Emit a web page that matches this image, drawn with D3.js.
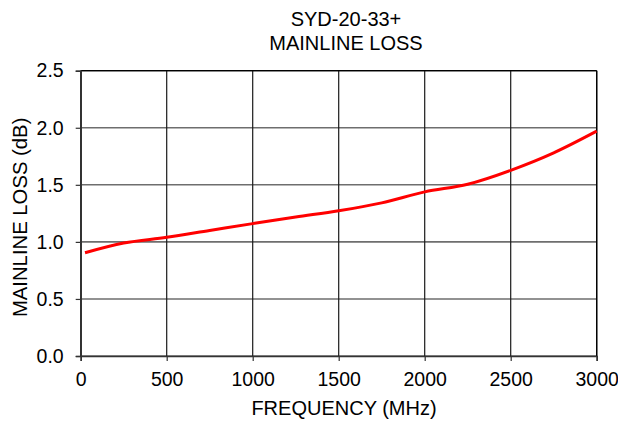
<!doctype html>
<html>
<head>
<meta charset="utf-8">
<script src="https://cdnjs.cloudflare.com/ajax/libs/d3/7.8.5/d3.min.js"></script>
<style>
  body { margin: 0; background: #fff; }
  text { font-family: "Liberation Sans", Arial, sans-serif; fill: #000; }
</style>
</head>
<body>
<div id="chart"></div>
<script>
// Data
var freqs  = [25, 250, 500, 750, 1000, 1250, 1500, 1750, 2000, 2250, 2500, 2750, 3000];
var losses = [0.905, 0.99, 1.04, 1.10, 1.16, 1.218, 1.272, 1.342, 1.438, 1.505, 1.627, 1.78, 1.97];
var xTicks = [0, 500, 1000, 1500, 2000, 2500, 3000];
var yTicks = [0.0, 0.5, 1.0, 1.5, 2.0, 2.5];
var titleLines = ["SYD-20-33+", "MAINLINE LOSS"];

var W = 618, H = 423;
var margin = { left: 80.7, right: 21.3, top: 70.7, bottom: 67 };
var width = W - margin.left - margin.right,
    height = H - margin.top - margin.bottom;

var svg = d3.select("#chart").append("svg")
  .attr("width", W)
  .attr("height", H);

var g = svg.append("g")
  .attr("transform", "translate(" + margin.left + "," + margin.top + ")");

var x = d3.scaleLinear().domain([0, 3000]).range([0, width]);
var y = d3.scaleLinear().domain([0, 2.5]).range([height, 0]);

// horizontal grid (grey)
g.selectAll(".hgrid").data(yTicks).enter().append("line")
  .attr("class", "hgrid")
  .attr("x1", 0).attr("x2", width)
  .attr("y1", function(d) { return y(d); })
  .attr("y2", function(d) { return y(d); })
  .attr("stroke", "#6e6e6e")
  .attr("stroke-width", 1.6);

// vertical grid (black)
g.selectAll(".vgrid").data(xTicks).enter().append("line")
  .attr("class", "vgrid")
  .attr("y1", 0).attr("y2", height)
  .attr("x1", function(d) { return x(d); })
  .attr("x2", function(d) { return x(d); })
  .attr("stroke", "#1a1a1a")
  .attr("stroke-width", 1.2);

// top and right border
g.append("line").attr("x1", 0).attr("x2", width).attr("y1", 0).attr("y2", 0)
  .attr("stroke", "#000").attr("stroke-width", 1.3);
g.append("line").attr("x1", width).attr("x2", width).attr("y1", 0).attr("y2", height)
  .attr("stroke", "#000").attr("stroke-width", 1.3);

// axes
var xAxis = g.append("g")
  .attr("transform", "translate(0," + height + ")")
  .call(d3.axisBottom(x).tickValues(xTicks).tickSize(5).tickPadding(11).tickFormat(d3.format("d")));
var yAxis = g.append("g")
  .call(d3.axisLeft(y).tickValues(yTicks).tickSize(5).tickPadding(12).tickFormat(d3.format(".1f")));

[xAxis, yAxis].forEach(function(a) {
  a.select(".domain").attr("stroke", "#333").attr("stroke-width", 1.6);
  a.selectAll(".tick line").attr("stroke", "#333").attr("stroke-width", 1.2);
  a.selectAll(".tick text")
    .attr("font-size", "19.5px")
    .attr("font-family", "Liberation Sans, Arial, sans-serif")
    .attr("fill", "#000");
});

// loss curve
var data = freqs.map(function(f, i) { return { f: f, v: losses[i] }; });
var line = d3.line()
  .x(function(d) { return x(d.f); })
  .y(function(d) { return y(d.v); })
  .curve(d3.curveMonotoneX);

g.append("path")
  .attr("d", line(data))
  .attr("fill", "none")
  .attr("stroke", "#ff0000")
  .attr("stroke-width", 3);

// titles
svg.selectAll(".title").data(titleLines).enter().append("text")
  .attr("class", "title")
  .attr("x", 346)
  .attr("y", function(d, i) { return 26 + i * 24; })
  .attr("text-anchor", "middle")
  .attr("font-size", "20px")
  .text(function(d) { return d; });

svg.append("text")
  .attr("x", 344)
  .attr("y", 415)
  .attr("text-anchor", "middle")
  .attr("font-size", "20px")
  .text("FREQUENCY (MHz)");

svg.append("text")
  .attr("transform", "translate(27," + (margin.top + height / 2 + 4) + ") rotate(-90)")
  .attr("text-anchor", "middle")
  .attr("font-size", "20.3px")
  .text("MAINLINE LOSS (dB)");
</script>
</body>
</html>
